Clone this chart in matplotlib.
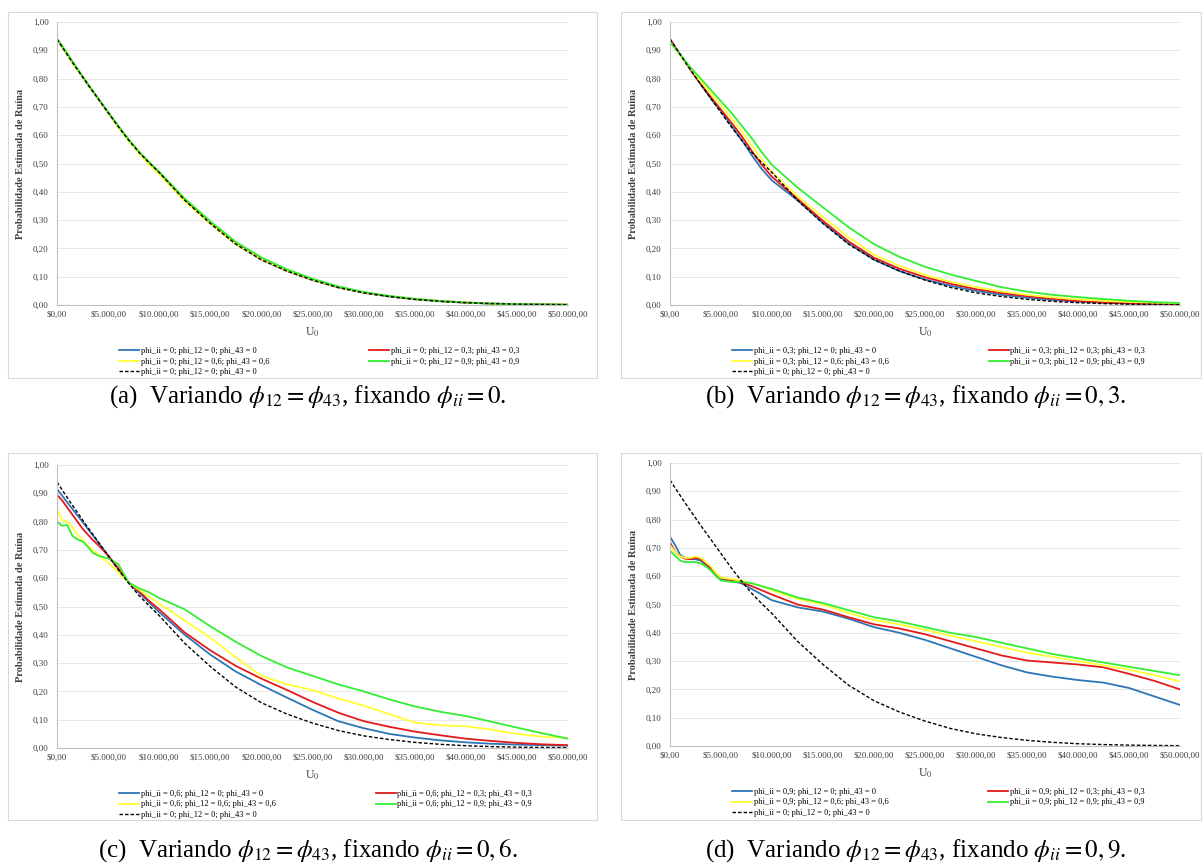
import matplotlib.pyplot as plt
import matplotlib.ticker as mticker
from matplotlib.patches import Rectangle

plt.rcParams['font.family'] = ['Liberation Serif', 'DejaVu Serif']
plt.rcParams['mathtext.fontset'] = 'stix'

# capital U0 (x axis), same grid for every series
U0 = [0, 500, 1000, 1500, 2000, 2500, 3000, 3500, 4000, 4500, 5000, 6000, 7000, 8000,
      9000, 10000, 12500, 15000, 17500, 20000, 22500, 25000, 27500, 30000, 32500,
      35000, 37500, 40000, 42500, 45000, 47500, 50000]

# phi_ii = 0; phi_12 = 0; phi_43 = 0 (reference, dashed in every panel)
base = [0.940, 0.912, 0.885, 0.858, 0.832, 0.806, 0.780, 0.755, 0.730, 0.705, 0.680,
        0.630, 0.583, 0.540, 0.503, 0.468, 0.370, 0.288, 0.215, 0.160, 0.120, 0.088,
        0.062, 0.043, 0.030, 0.020, 0.013, 0.008, 0.005, 0.003, 0.002, 0.001]

# (a) phi_ii = 0
a_blue = list(base)
a_red = [0.940, 0.912, 0.885, 0.858, 0.832, 0.806, 0.780, 0.755, 0.730, 0.705, 0.680,
         0.631, 0.584, 0.541, 0.503, 0.467, 0.371, 0.290, 0.217, 0.162, 0.121, 0.089,
         0.063, 0.044, 0.031, 0.021, 0.014, 0.009, 0.005, 0.003, 0.002, 0.001]
a_yellow = [0.940, 0.912, 0.884, 0.857, 0.831, 0.805, 0.779, 0.754, 0.729, 0.704, 0.679,
            0.628, 0.580, 0.536, 0.497, 0.462, 0.366, 0.287, 0.215, 0.161, 0.121, 0.089,
            0.063, 0.044, 0.031, 0.021, 0.014, 0.009, 0.005, 0.003, 0.002, 0.001]
a_green = [0.940, 0.916, 0.890, 0.862, 0.835, 0.808, 0.782, 0.757, 0.732, 0.707, 0.682,
           0.633, 0.586, 0.543, 0.506, 0.471, 0.376, 0.296, 0.223, 0.168, 0.126, 0.093,
           0.066, 0.046, 0.032, 0.022, 0.014, 0.009, 0.005, 0.003, 0.002, 0.001]

# (b) phi_ii = 0,3
b_blue = [0.940, 0.912, 0.885, 0.858, 0.832, 0.806, 0.780, 0.755, 0.730, 0.707, 0.685,
          0.635, 0.585, 0.530, 0.480, 0.440, 0.370, 0.290, 0.218, 0.160, 0.120, 0.090,
          0.068, 0.050, 0.036, 0.026, 0.018, 0.012, 0.008, 0.005, 0.004, 0.003]
b_red = [0.940, 0.912, 0.885, 0.859, 0.833, 0.807, 0.782, 0.758, 0.735, 0.712, 0.690,
         0.645, 0.598, 0.545, 0.495, 0.453, 0.375, 0.297, 0.225, 0.167, 0.128, 0.098,
         0.075, 0.056, 0.042, 0.031, 0.022, 0.014, 0.009, 0.006, 0.004, 0.003]
b_yellow = [0.930, 0.906, 0.882, 0.859, 0.836, 0.813, 0.790, 0.769, 0.748, 0.727, 0.705,
            0.660, 0.615, 0.565, 0.515, 0.470, 0.385, 0.310, 0.240, 0.178, 0.138, 0.106,
            0.082, 0.063, 0.048, 0.036, 0.027, 0.020, 0.015, 0.011, 0.008, 0.006]
b_green = [0.930, 0.907, 0.885, 0.862, 0.840, 0.820, 0.800, 0.780, 0.760, 0.740, 0.720,
           0.680, 0.635, 0.590, 0.540, 0.495, 0.415, 0.345, 0.275, 0.215, 0.170, 0.135,
           0.108, 0.085, 0.063, 0.047, 0.036, 0.028, 0.021, 0.015, 0.010, 0.007]

# (c) phi_ii = 0,6
c_blue = [0.915, 0.892, 0.868, 0.845, 0.822, 0.799, 0.775, 0.752, 0.728, 0.704, 0.680,
          0.632, 0.585, 0.550, 0.515, 0.480, 0.400, 0.330, 0.270, 0.222, 0.178, 0.135,
          0.095, 0.070, 0.050, 0.037, 0.027, 0.020, 0.015, 0.012, 0.010, 0.008]
c_red = [0.895, 0.875, 0.850, 0.825, 0.800, 0.775, 0.755, 0.735, 0.718, 0.700, 0.680,
         0.635, 0.585, 0.555, 0.520, 0.490, 0.408, 0.345, 0.290, 0.245, 0.205, 0.163,
         0.125, 0.095, 0.075, 0.058, 0.045, 0.033, 0.025, 0.018, 0.013, 0.010]
c_yellow = [0.845, 0.805, 0.800, 0.780, 0.755, 0.735, 0.715, 0.700, 0.685, 0.670, 0.655,
            0.620, 0.585, 0.560, 0.535, 0.510, 0.450, 0.390, 0.320, 0.255, 0.225, 0.205,
            0.175, 0.150, 0.120, 0.090, 0.080, 0.077, 0.065, 0.050, 0.040, 0.035]
c_green = [0.800, 0.785, 0.788, 0.750, 0.737, 0.730, 0.712, 0.690, 0.680, 0.675, 0.670,
           0.650, 0.585, 0.565, 0.550, 0.530, 0.490, 0.430, 0.375, 0.325, 0.285, 0.255,
           0.225, 0.200, 0.172, 0.147, 0.128, 0.113, 0.093, 0.072, 0.052, 0.033]

# (d) phi_ii = 0,9
d_blue = [0.740, 0.710, 0.675, 0.665, 0.660, 0.660, 0.655, 0.640, 0.625, 0.605, 0.590,
          0.583, 0.575, 0.555, 0.535, 0.515, 0.490, 0.475, 0.450, 0.420, 0.400, 0.375,
          0.345, 0.315, 0.285, 0.260, 0.245, 0.233, 0.224, 0.205, 0.175, 0.145]
d_red = [0.720, 0.685, 0.670, 0.662, 0.660, 0.665, 0.660, 0.645, 0.630, 0.610, 0.595,
         0.585, 0.578, 0.565, 0.550, 0.535, 0.500, 0.482, 0.455, 0.430, 0.415, 0.395,
         0.370, 0.345, 0.320, 0.302, 0.295, 0.288, 0.278, 0.255, 0.230, 0.200]
d_yellow = [0.710, 0.685, 0.670, 0.665, 0.665, 0.670, 0.665, 0.650, 0.635, 0.612, 0.595,
            0.590, 0.585, 0.575, 0.565, 0.550, 0.520, 0.500, 0.470, 0.445, 0.430, 0.410,
            0.390, 0.370, 0.350, 0.330, 0.315, 0.300, 0.285, 0.270, 0.250, 0.228]
d_green = [0.690, 0.672, 0.655, 0.650, 0.650, 0.650, 0.645, 0.635, 0.620, 0.600, 0.585,
           0.580, 0.580, 0.575, 0.565, 0.555, 0.525, 0.505, 0.480, 0.455, 0.440, 0.420,
           0.400, 0.385, 0.365, 0.345, 0.325, 0.310, 0.295, 0.280, 0.265, 0.250]

phi_ii = ['0', '0,3', '0,6', '0,9']
phi_pair = ['0', '0,3', '0,6', '0,9']
captions = ['(a)  Variando $\\phi_{12} = \\phi_{43}$, fixando $\\phi_{ii} = 0$.',
            '(b)  Variando $\\phi_{12} = \\phi_{43}$, fixando $\\phi_{ii} = 0,3$.',
            '(c)  Variando $\\phi_{12} = \\phi_{43}$, fixando $\\phi_{ii} = 0,6$.',
            '(d)  Variando $\\phi_{12} = \\phi_{43}$, fixando $\\phi_{ii} = 0,9$.']
panels = [[a_blue, a_red, a_yellow, a_green],
          [b_blue, b_red, b_yellow, b_green],
          [c_blue, c_red, c_yellow, c_green],
          [d_blue, d_red, d_yellow, d_green]]
colors = ['#2E75B6', '#E31A1C', '#FFFF33', '#33EE33']

W, H = 1202, 865
fig = plt.figure(figsize=(W / 100, H / 100), dpi=100)

def fx(px):
    return px / W

def fy(py):
    return 1 - py / H

# pixel layout: (plot left, plot right, plot top, plot bottom, box left, box right, box top, box bottom)
layout = [(57, 568, 22, 305, 8, 597, 12, 378),
          (670, 1180, 22, 305, 621, 1201, 12, 378),
          (57, 568, 465, 748, 8, 597, 453, 820),
          (670, 1180, 463, 746, 621, 1201, 453, 820)]
cap_y = [397, 397, 851, 851]

for k in range(4):
    l, r, t, b, bl, br, bt, bb = layout[k]
    fig.patches.append(Rectangle((fx(bl), fy(bb)), fx(br - bl), (bb - bt) / H,
                                 transform=fig.transFigure, fill=False,
                                 edgecolor='#D9D9D9', linewidth=0.8))
    ax = fig.add_axes([fx(l), fy(b), fx(r - l), (b - t) / H])
    lines = []
    for s in range(4):
        lab = 'phi_ii = ' + phi_ii[k] + '; phi_12 = ' + phi_pair[s] + '; phi_43 = ' + phi_pair[s]
        ln, = ax.plot(U0, panels[k][s], color=colors[s], lw=1.3, label=lab)
        lines.append(ln)
    ln, = ax.plot(U0, base, color='black', lw=1.0, ls=(0, (2.5, 1.5)),
                  label='phi_ii = 0; phi_12 = 0; phi_43 = 0')
    lines.append(ln)

    ax.set_xlim(0, 50000)
    ax.set_ylim(0, 1)
    ax.set_xticks(range(0, 50001, 5000))
    ax.set_yticks([i / 10 for i in range(11)])
    ax.xaxis.set_major_formatter(mticker.FuncFormatter(
        lambda v, p: '$' + f'{v:,.2f}'.replace(',', 'X').replace('.', ',').replace('X', '.')))
    ax.yaxis.set_major_formatter(mticker.FuncFormatter(lambda v, p: f'{v:.2f}'.replace('.', ',')))
    ax.tick_params(length=0, labelsize=6.5, colors='#404040')
    ax.tick_params(axis='y', pad=6)
    ax.tick_params(axis='x', pad=4)
    ax.grid(axis='y', color='#E3E3E3', lw=0.6)
    ax.set_axisbelow(True)
    for sp in ['top', 'right']:
        ax.spines[sp].set_visible(False)
    for sp in ['left', 'bottom']:
        ax.spines[sp].set_color('#BFBFBF')
        ax.spines[sp].set_linewidth(0.8)

    ax.set_ylabel('Probabilidade Estimada de Ruína', fontsize=7.5, fontweight='bold', color='#404040')
    ax.yaxis.set_label_coords(-32 / (r - l), 0.5)
    ax.set_xlabel('U$_0$', fontsize=8.5, color='#404040')
    ax.xaxis.set_label_coords(0.5, -27 / (b - t))
    ax.xaxis.label.set_va('center')

    fig.legend([lines[0], lines[2], lines[4], lines[1], lines[3]],
               [lines[0].get_label(), lines[2].get_label(), lines[4].get_label(),
                lines[1].get_label(), lines[3].get_label()],
               loc='upper left', bbox_to_anchor=(fx(l + 62), fy(b + 42)), ncol=2,
               frameon=False, fontsize=6, handlelength=2.4, handletextpad=0.2,
               columnspacing=12.0, labelspacing=0.3, borderpad=0, borderaxespad=0)

    fig.text(fx((bl + br) / 2 + 5), fy(cap_y[k]), captions[k], fontsize=18,
             ha='center', va='center')

plt.savefig('out.png', dpi=100, facecolor='white')
